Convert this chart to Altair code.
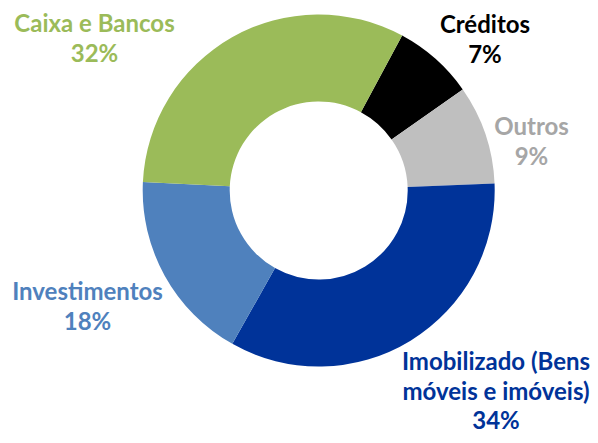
import math
import altair as alt
import pandas as pd

# ---- data ----
CATEGORIES = [
    "Créditos",
    "Outros",
    "Imobilizado (Bens móveis e imóveis)",
    "Investimentos",
    "Caixa e Bancos",
]
VALUES = [7.4, 9.1, 33.8, 17.6, 32.1]
LABEL_LINES = [
    "Créditos",
    "Outros",
    "Imobilizado (Bens\nmóveis e imóveis)",
    "Investimentos",
    "Caixa e Bancos",
]

# ---- styles / layout ----
SLICE_COLORS = ["#000000", "#BFBFBF", "#003399", "#4F81BD", "#9BBB59"]
LABEL_COLORS = ["#000000", "#A6A6A6", "#003399", "#4F81BD", "#9BBB59"]
LABEL_X = [477, 523.5, 488, 79.5, 86.5]
LABEL_Y = [25, 127, 362, 292, 24]
CX, CY = 310.7, 182.5
R_OUT, R_IN = 176, 89
START = math.radians(28.3)
FONT = "Lato"

df = pd.DataFrame({"cat": CATEGORIES, "value": VALUES, "idx": list(range(len(VALUES)))})

labels = pd.DataFrame({
    "cat": CATEGORIES,
    "txt": [f"{l}\n{round(v)}%" for l, v in zip(LABEL_LINES, VALUES)],
    "lc": LABEL_COLORS,
    "lx": LABEL_X,
    "ly": LABEL_Y,
})

donut = alt.Chart(df).mark_arc(innerRadius=R_IN, outerRadius=R_OUT).encode(
    theta=alt.Theta("value:Q", stack=True,
                    scale=alt.Scale(range=[START, START + 2 * math.pi])),
    color=alt.Color("cat:N", scale=alt.Scale(domain=CATEGORIES, range=SLICE_COLORS),
                    legend=None),
    order=alt.Order("idx:Q"),
    x=alt.value(CX),
    y=alt.value(CY),
)

text = alt.Chart(labels).mark_text(
    font=FONT, fontSize=24, fontWeight="bold", align="center",
    baseline="alphabetic", lineBreak="\n", lineHeight=29.5,
).encode(
    x=alt.X("lx:Q", scale=None),
    y=alt.Y("ly:Q", scale=None),
    text="txt:N",
    color=alt.Color("lc:N", scale=None),
)

chart = alt.layer(donut, text).properties(
    width=582, height=427, autosize=alt.AutoSizeParams(type="none"), padding=0,
    background="white",
).configure_view(stroke=None)

chart.save("out.html", embed_options={"renderer": "svg", "actions": False})
